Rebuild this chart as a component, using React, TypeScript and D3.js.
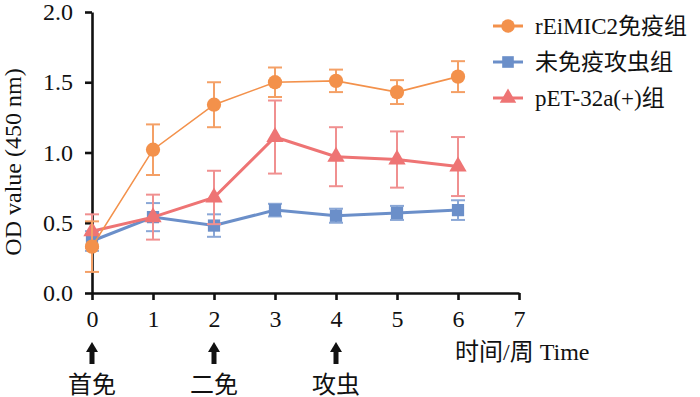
import { useEffect, useRef } from 'react';
import * as d3 from 'd3';

const weeks = [0, 1, 2, 3, 4, 5, 6];
const xTicks = [0, 1, 2, 3, 4, 5, 6, 7];
const yTicks = [0, 0.5, 1.0, 1.5, 2.0];

const seriesNames = ['rEiMIC2免疫组', '未免疫攻虫组', 'pET-32a(+)组'];
const immuneMean = [0.33, 1.02, 1.34, 1.50, 1.51, 1.43, 1.54];
const immuneErr = [0.18, 0.18, 0.16, 0.105, 0.08, 0.085, 0.11];
const controlMean = [0.37, 0.54, 0.48, 0.59, 0.55, 0.57, 0.59];
const controlErr = [0.07, 0.10, 0.08, 0.045, 0.05, 0.05, 0.07];
const vectorMean = [0.44, 0.54, 0.68, 1.11, 0.97, 0.95, 0.90];
const vectorErr = [0.12, 0.16, 0.19, 0.26, 0.21, 0.20, 0.21];

const events = [
  { week: 0, label: '首免' },
  { week: 2, label: '二免' },
  { week: 4, label: '攻虫' },
];

const FONT = "'Liberation Serif', 'Times New Roman', 'Noto Sans CJK SC', serif";

export default function App() {
  const svgRef = useRef<SVGSVGElement>(null);

  useEffect(() => {
    if (!svgRef.current) return;
    const svg = d3.select(svgRef.current);
    svg.selectAll('*').remove();

    const x = d3.scaleLinear().domain([0, 7]).range([92, 519]);
    const y = d3.scaleLinear().domain([0, 2]).range([293, 12]);

    const g = svg.append('g');

    // 坐标轴
    const xAxis = g.append('g')
      .attr('transform', `translate(0,${y(0)})`)
      .call(d3.axisBottom(x).tickValues(xTicks).tickFormat(d => String(d)).tickSize(7).tickSizeOuter(0));
    xAxis.attr('font-family', null).attr('font-size', null);
    xAxis.select('.domain').attr('stroke', '#111').attr('stroke-width', 2.6);
    xAxis.selectAll('line').attr('stroke', '#111').attr('stroke-width', 2.6);
    xAxis.selectAll('text')
      .style('font-family', FONT).style('font-size', '24px').attr('fill', '#111').attr('dy', '1.0em');

    const yAxis = g.append('g')
      .attr('transform', `translate(${x(0)},0)`)
      .call(d3.axisLeft(y).tickValues(yTicks).tickFormat(d3.format('.1f')).tickSize(7).tickSizeOuter(0));
    yAxis.attr('font-family', null).attr('font-size', null);
    yAxis.select('.domain').attr('stroke', '#111').attr('stroke-width', 2.6);
    yAxis.selectAll('line').attr('stroke', '#111').attr('stroke-width', 2.6);
    yAxis.selectAll('text')
      .style('font-family', FONT).style('font-size', '24px').attr('fill', '#111').attr('x', -19);

    svg.append('text')
      .attr('transform', `translate(21,162) rotate(-90)`)
      .attr('text-anchor', 'middle')
      .style('font-family', FONT).style('font-size', '24px').attr('fill', '#111')
      .text('OD value (450 nm)');

    svg.append('text')
      .attr('x', 455).attr('y', 360)
      .style('font-family', FONT).style('font-size', '24px').attr('fill', '#111')
      .text('时间/周 Time');

    // 箭头与标注
    const ev = svg.append('g').selectAll('g').data(events).join('g')
      .attr('transform', d => `translate(${x(d.week)},0)`);
    ev.append('rect').attr('x', -2.5).attr('y', 350).attr('width', 5).attr('height', 14).attr('fill', '#111');
    ev.append('path').attr('d', 'M-6,352 L0,342 L6,352 Z').attr('fill', '#111');
    ev.append('text').attr('y', 393).attr('text-anchor', 'middle')
      .style('font-family', FONT).style('font-size', '24px').attr('fill', '#111')
      .text(d => d.label);

    const series = [
      { name: seriesNames[1], mean: controlMean, err: controlErr, color: '#6b8fc9', errColor: '#8aa7d6', width: 3, shape: d3.symbolSquare, size: 150 },
      { name: seriesNames[2], mean: vectorMean, err: vectorErr, color: '#ee7474', errColor: '#f09090', width: 3, shape: d3.symbolTriangle, size: 130 },
      { name: seriesNames[0], mean: immuneMean, err: immuneErr, color: '#f3914b', errColor: '#f4a066', width: 1.6, shape: d3.symbolCircle, size: 160 },
    ];

    const line = d3.line<number>().x((_, i) => x(weeks[i])).y(d => y(d));

    series.forEach(s => {
      const sg = g.append('g');
      // 误差线
      const eb = sg.selectAll('g.err').data(s.mean).join('g').attr('class', 'err');
      eb.append('line')
        .attr('x1', (_, i) => x(weeks[i])).attr('x2', (_, i) => x(weeks[i]))
        .attr('y1', (d, i) => y(d - s.err[i])).attr('y2', (d, i) => y(d + s.err[i]))
        .attr('stroke', s.errColor).attr('stroke-width', 2);
      [1, -1].forEach(sign => {
        eb.append('line')
          .attr('x1', (_, i) => x(weeks[i]) - 7).attr('x2', (_, i) => x(weeks[i]) + 7)
          .attr('y1', (d, i) => y(d + sign * s.err[i])).attr('y2', (d, i) => y(d + sign * s.err[i]))
          .attr('stroke', s.errColor).attr('stroke-width', 2);
      });
      sg.append('path').datum(s.mean).attr('d', line)
        .attr('fill', 'none').attr('stroke', s.color).attr('stroke-width', s.width);
      sg.selectAll('path.pt').data(s.mean).join('path').attr('class', 'pt')
        .attr('transform', (d, i) => `translate(${x(weeks[i])},${y(d)})`)
        .attr('d', d3.symbol().type(s.shape).size(s.size)())
        .attr('fill', s.color);
    });

    // 图例
    const legendOrder = [series[2], series[0], series[1]];
    const lg = svg.append('g').selectAll('g').data(legendOrder).join('g')
      .attr('transform', (_, i) => `translate(0,${26 + i * 36})`);
    lg.append('line').attr('x1', 493).attr('x2', 523).attr('y1', 0).attr('y2', 0)
      .attr('stroke', d => d.color).attr('stroke-width', 3);
    lg.append('path').attr('transform', 'translate(508,0)')
      .attr('d', d => d3.symbol().type(d.shape).size(d.size * 0.9)())
      .attr('fill', d => d.color);
    lg.append('text').attr('x', 535).attr('y', 8)
      .style('font-family', FONT).style('font-size', '23px').attr('fill', '#111')
      .text(d => d.name);
  }, []);

  return (
    <svg ref={svgRef} width={700} height={397}
      style={{ position: 'absolute', left: 0, top: 0, background: '#fff' }} />
  );
}
